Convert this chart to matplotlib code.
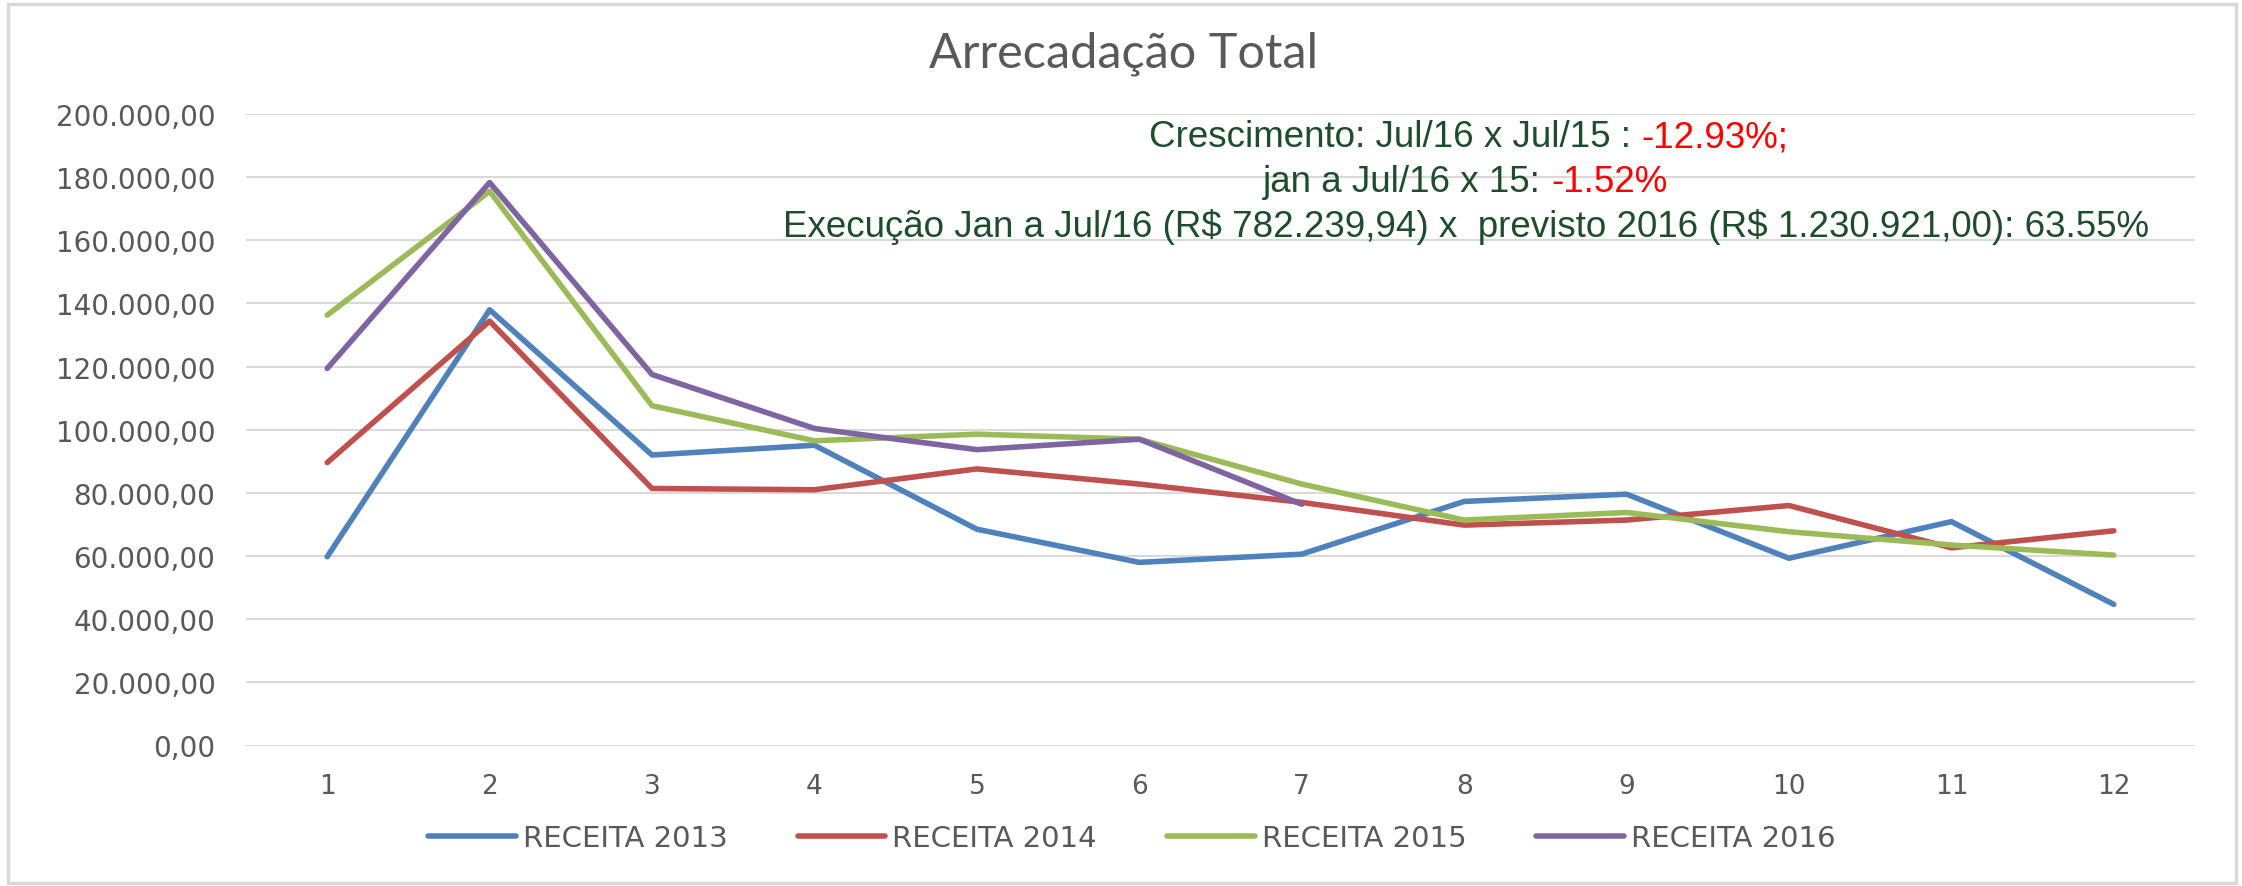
import numpy as np
import matplotlib
matplotlib.use('Agg')
import matplotlib.pyplot as plt
from matplotlib.ticker import FuncFormatter
from matplotlib.patches import Rectangle

meses = list(range(1, 13))
receita_2013 = [59800, 138000, 92000, 95100, 68500, 58000, 60600, 77300, 79600, 59300, 70900, 44700]
receita_2014 = [89600, 134400, 81400, 81000, 87600, 82800, 77000, 69800, 71400, 76000, 62600, 68000]
receita_2015 = [136300, 175500, 107600, 96500, 98600, 97000, 82800, 71400, 73800, 67700, 63500, 60300]
receita_2016 = [119400, 178300, 117500, 100400, 93700, 97000, 76400]
series = ['RECEITA 2013', 'RECEITA 2014', 'RECEITA 2015', 'RECEITA 2016']
cores = ['#4F81BD', '#C0504D', '#9BBB59', '#8064A2']

W, H = 2242, 887
fig = plt.figure(figsize=(W/100, H/100), dpi=100)
ax = fig.add_axes([246/W, (H-746.5)/H, (2195-246)/W, 631.5/H])

for vals, nome, c in zip([receita_2013, receita_2014, receita_2015, receita_2016], series, cores):
    ax.plot(meses[:len(vals)], vals, color=c, lw=4, label=nome, solid_capstyle='round', zorder=3)

def fmt_br(v, pos):
    s = f"{v:,.2f}"
    return s.replace(',', 'X').replace('.', ',').replace('X', '.')

ax.set_xlim(0.5, 12.5)
ax.set_ylim(0, 200000)
ax.set_yticks(np.arange(0, 200001, 20000))
ax.set_xticks(meses)
ax.yaxis.set_major_formatter(FuncFormatter(fmt_br))
ax.grid(axis='y', color='#D9D9D9', lw=1.5, zorder=0)
for s in ax.spines.values():
    s.set_visible(False)
ax.tick_params(axis='both', length=0, colors='#595959')
ax.tick_params(axis='y', labelsize=20, pad=22)
ax.tick_params(axis='x', labelsize=19, pad=20)

fig.text(1124/W, 1-54/H, 'Arrecadação Total', ha='center', va='center',
         fontsize=35, color='#595959', family='Lato')

verde = '#1E4D2B'
fs = 26.5
fam = 'Liberation Sans'
fig.text(1641/W, 1-147/H, 'Crescimento: Jul/16 x Jul/15 : ', ha='right', va='baseline',
         fontsize=fs, color=verde, family=fam)
fig.text(1641/W, 1-147/H, '-12.93%;', ha='left', va='baseline', fontsize=fs, color='red', family=fam)
fig.text(1551/W, 1-192/H, 'jan a Jul/16 x 15: ', ha='right', va='baseline',
         fontsize=fs, color=verde, family=fam)
fig.text(1551/W, 1-192/H, '-1.52%', ha='left', va='baseline', fontsize=fs, color='red', family=fam)
fig.text(1466/W, 1-237/H, 'Execução Jan a Jul/16 (R\\$ 782.239,94) x  previsto 2016 (R\\$ 1.230.921,00): 63.55%',
         ha='center', va='baseline', fontsize=fs, color=verde, family=fam)

leg = fig.legend(loc='center', bbox_to_anchor=(1132/W, 1-839/H), ncol=4, frameon=False,
                 fontsize=21, handlelength=3.0, handletextpad=0.25, columnspacing=2.4)
for t in leg.get_texts():
    t.set_color('#595959')

fig.patches.append(Rectangle((8/W, 3/H), (2236-8)/W, (882-3)/H, transform=fig.transFigure,
                             fill=False, edgecolor='#D9D9D9', lw=2.5))

fig.savefig('out.png', dpi=100)
